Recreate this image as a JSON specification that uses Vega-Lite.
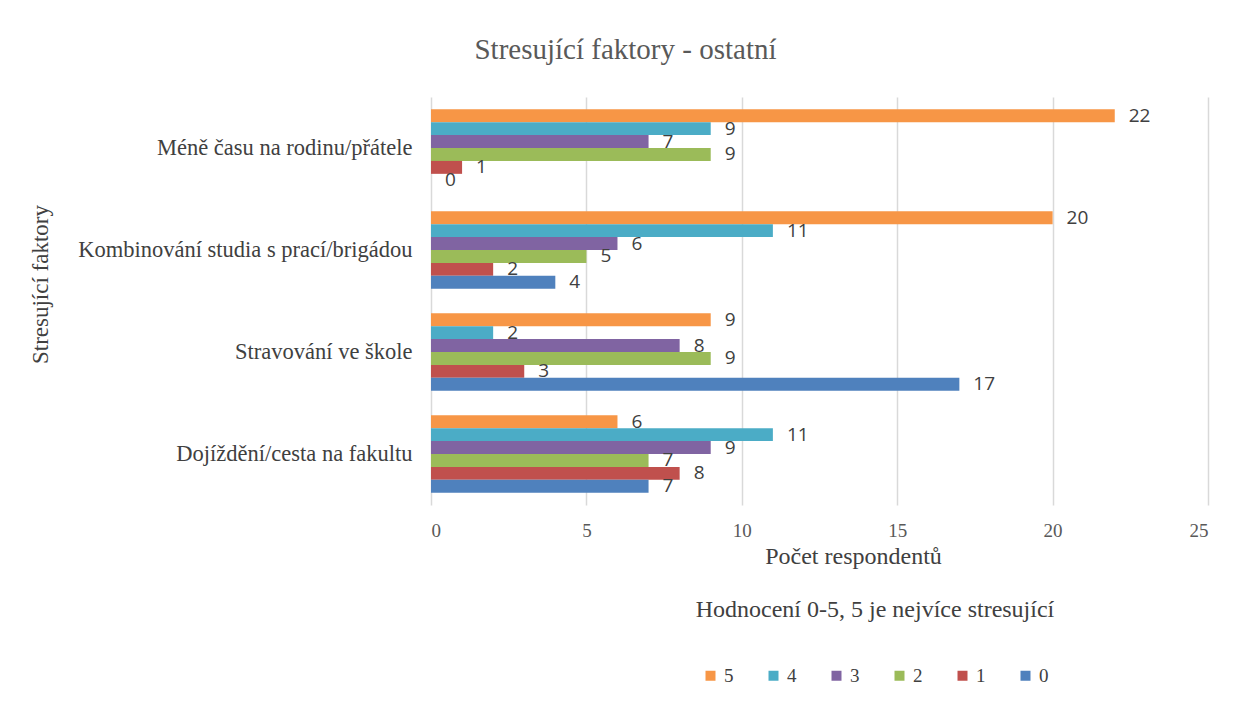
{
  "$schema": "https://vega.github.io/schema/vega-lite/v6.json",
  "autosize": {"type": "none"},
  "width": 777,
  "height": 408,
  "padding": {"left": 431, "top": 97, "right": 27, "bottom": 203},
  "background": "white",
  "title": {
    "text": "Stresující faktory - ostatní",
    "font": "Liberation Serif",
    "fontSize": 29,
    "fontWeight": "normal",
    "color": "#595959",
    "anchor": "middle",
    "dx": -194,
    "offset": 32
  },
  "data": {
    "values": [
      {"f": "Méně času na rodinu/přátele", "h": "5", "v": 22},
      {"f": "Méně času na rodinu/přátele", "h": "4", "v": 9},
      {"f": "Méně času na rodinu/přátele", "h": "3", "v": 7},
      {"f": "Méně času na rodinu/přátele", "h": "2", "v": 9},
      {"f": "Méně času na rodinu/přátele", "h": "1", "v": 1},
      {"f": "Méně času na rodinu/přátele", "h": "0", "v": 0},
      {"f": "Kombinování studia s prací/brigádou", "h": "5", "v": 20},
      {"f": "Kombinování studia s prací/brigádou", "h": "4", "v": 11},
      {"f": "Kombinování studia s prací/brigádou", "h": "3", "v": 6},
      {"f": "Kombinování studia s prací/brigádou", "h": "2", "v": 5},
      {"f": "Kombinování studia s prací/brigádou", "h": "1", "v": 2},
      {"f": "Kombinování studia s prací/brigádou", "h": "0", "v": 4},
      {"f": "Stravování ve škole", "h": "5", "v": 9},
      {"f": "Stravování ve škole", "h": "4", "v": 2},
      {"f": "Stravování ve škole", "h": "3", "v": 8},
      {"f": "Stravování ve škole", "h": "2", "v": 9},
      {"f": "Stravování ve škole", "h": "1", "v": 3},
      {"f": "Stravování ve škole", "h": "0", "v": 17},
      {"f": "Dojíždění/cesta na fakultu", "h": "5", "v": 6},
      {"f": "Dojíždění/cesta na fakultu", "h": "4", "v": 11},
      {"f": "Dojíždění/cesta na fakultu", "h": "3", "v": 9},
      {"f": "Dojíždění/cesta na fakultu", "h": "2", "v": 7},
      {"f": "Dojíždění/cesta na fakultu", "h": "1", "v": 8},
      {"f": "Dojíždění/cesta na fakultu", "h": "0", "v": 7}
    ]
  },
  "encoding": {
    "y": {
      "field": "f",
      "type": "nominal",
      "sort": ["Méně času na rodinu/přátele", "Kombinování studia s prací/brigádou", "Stravování ve škole", "Dojíždění/cesta na fakultu"],
      "scale": {"paddingInner": 0.24, "paddingOuter": 0.12},
      "axis": {
        "title": "Stresující faktory",
        "titleFont": "Liberation Serif",
        "titleFontSize": 23,
        "titleFontWeight": "normal",
        "titleColor": "#404040",
        "titleAngle": -90,
        "titleX": -391,
        "titleY": 187,
        "titleAlign": "center",
        "titleBaseline": "middle",
        "labelFont": "Liberation Serif",
        "labelFontSize": 22.5,
        "labelColor": "#404040",
        "labelPadding": 19,
        "labelLimit": 400,
        "ticks": false,
        "domain": false,
        "grid": false
      }
    },
    "yOffset": {
      "field": "h",
      "type": "nominal",
      "sort": ["5", "4", "3", "2", "1", "0"],
      "scale": {"paddingInner": 0, "paddingOuter": 0}
    },
    "x": {
      "field": "v",
      "type": "quantitative",
      "scale": {"domain": [0, 25], "nice": false},
      "axis": {
        "title": "Počet respondentů",
        "titleFont": "Liberation Serif",
        "titleFontSize": 24,
        "titleFontWeight": "normal",
        "titleColor": "#404040",
        "titleX": 422,
        "titleY": 51,
        "titleAlign": "center",
        "titleBaseline": "middle",
        "values": [0, 5, 10, 15, 20, 25],
        "labelFont": "Liberation Serif",
        "labelFontSize": 19,
        "labelColor": "#595959",
        "labelPadding": 16,
        "ticks": false,
        "domain": false,
        "grid": true,
        "gridColor": "#d9d9d9",
        "gridWidth": 1.5
      }
    }
  },
  "layer": [
    {
      "mark": {"type": "bar"},
      "encoding": {
        "color": {
          "field": "h",
          "type": "nominal",
          "scale": {
            "domain": ["5", "4", "3", "2", "1", "0"],
            "range": ["#F79646", "#4BACC6", "#8064A2", "#9BBB59", "#C0504D", "#4F81BD"]
          },
          "legend": {
            "title": "Hodnocení 0-5, 5 je nejvíce stresující",
            "orient": "none",
            "legendX": 265,
            "legendY": 501,
            "direction": "horizontal",
            "titleFont": "Liberation Serif",
            "titleFontSize": 24,
            "titleFontWeight": "normal",
            "titleColor": "#404040",
            "titleAnchor": "middle",
            "titleLimit": 600,
            "titlePadding": 44,
            "labelFont": "Liberation Serif",
            "labelFontSize": 19,
            "labelColor": "#404040",
            "symbolType": "square",
            "symbolSize": 100,
            "symbolStrokeWidth": 0,
            "columnPadding": 30,
            "labelOffset": 4
          }
        }
      }
    },
    {
      "mark": {"type": "text", "align": "left", "baseline": "middle", "dx": 14, "font": "Open Sans", "fontSize": 19, "color": "#404040"},
      "encoding": {
        "text": {"field": "v", "type": "quantitative"}
      }
    }
  ],
  "config": {"view": {"stroke": null}}
}
